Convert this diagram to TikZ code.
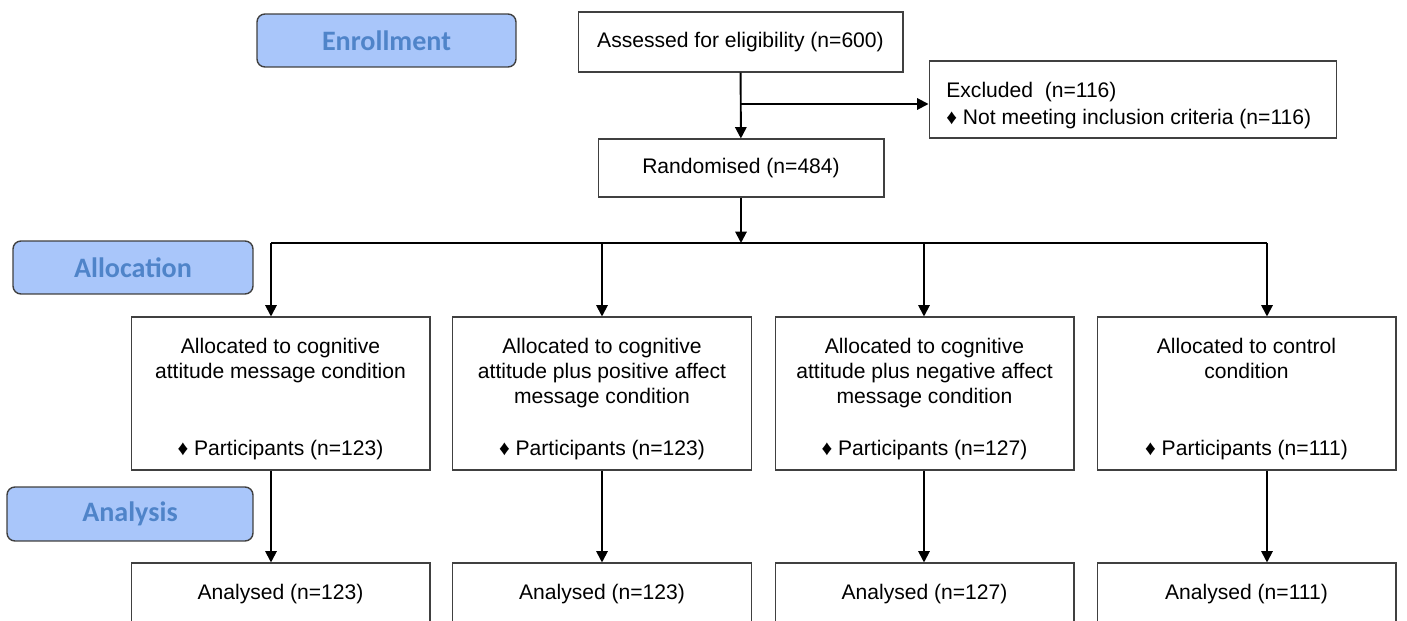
\documentclass[tikz,border=0pt]{standalone}
\usepackage{fontspec}
\setmainfont{Liberation Sans}
\newfontfamily\stagefont{Carlito}
\usepackage{tikz}
\usepackage{xcolor}
\usetikzlibrary{arrows.meta, positioning}

\definecolor{stagefill}{HTML}{A9C6FA}
\definecolor{stagetext}{HTML}{4F84C9}
\definecolor{boxline}{HTML}{404040}

\begin{document}
\begin{tikzpicture}[x=0.02cm, y=-0.02cm,
    stage/.style={draw=boxline, line width=0.8pt, fill=stagefill, rounded corners=4.5pt,
        text=stagetext, font=\stagefont\bfseries\fontsize{16}{19}\selectfont},
    flowbox/.style={draw=boxline, line width=0.6pt, fill=white, align=center,
        font=\fontsize{12}{14.4}\selectfont},
    boxtext/.style={inner sep=0pt, align=center, font=\fontsize{12}{14.4}\selectfont},
    flow/.style={-{Triangle[length=6.5pt, width=6.5pt]}, line width=1.1pt}]
    \useasboundingbox (0,0) rectangle (1407,621);

    % Stage labels
    \node[stage, minimum width=5.18cm, minimum height=1.06cm] (enroll) at (386.5,40.5) {Enrollment};
    \node[stage, minimum width=4.8cm, minimum height=1.06cm] (alloc) at (133,267.5) {Allocation};
    \node[stage, minimum width=4.92cm, minimum height=1.08cm] (analysis) at (130,514) {Analysis};

    % Enrollment boxes
    \node[flowbox, minimum width=6.5cm, minimum height=1.2cm] (assessed) at (740.5,42) {Assessed for eligibility (n=600)};
    \node[flowbox, minimum width=8.16cm, minimum height=1.54cm] (excluded) at (1133,99.5) {};
    \node[boxtext, align=left, anchor=west, font=\fontsize{12}{15.4}\selectfont] (excluded-text) at (946,106)
        {Excluded~ (n=116)\\\char"2666\ Not meeting inclusion criteria (n=116)};
    \node[flowbox, minimum width=5.72cm, minimum height=1.16cm] (random) at (741,168) {Randomised (n=484)};

    % Allocation boxes
    \node[flowbox, minimum width=5.98cm, minimum height=3.06cm] (group1) at (280.5,393.5) {};
    \node[flowbox, minimum width=5.98cm, minimum height=3.06cm] (group2) at (602,393.5) {};
    \node[flowbox, minimum width=5.98cm, minimum height=3.06cm] (group3) at (924.5,393.5) {};
    \node[flowbox, minimum width=5.98cm, minimum height=3.06cm] (group4) at (1246.5,393.5) {};

    \node[boxtext, below=0.42cm of group1.north] (group1-title) {Allocated to cognitive\\attitude message condition};
    \node[boxtext, below=0.42cm of group2.north] (group2-title) {Allocated to cognitive\\attitude plus positive affect\\message condition};
    \node[boxtext, below=0.42cm of group3.north] (group3-title) {Allocated to cognitive\\attitude plus negative affect\\message condition};
    \node[boxtext, below=0.42cm of group4.north] (group4-title) {Allocated to control\\condition};

    \node[boxtext, above=0.2cm of group1.south] (group1-n) {\char"2666\ Participants (n=123)};
    \node[boxtext, above=0.2cm of group2.south] (group2-n) {\char"2666\ Participants (n=123)};
    \node[boxtext, above=0.2cm of group3.south] (group3-n) {\char"2666\ Participants (n=127)};
    \node[boxtext, above=0.2cm of group4.south] (group4-n) {\char"2666\ Participants (n=111)};

    % Analysis boxes
    \node[flowbox, minimum width=5.98cm, minimum height=1.24cm] (result1) at (280.5,594) {Analysed (n=123)};
    \node[flowbox, minimum width=5.98cm, minimum height=1.24cm] (result2) at (602,594) {Analysed (n=123)};
    \node[flowbox, minimum width=5.98cm, minimum height=1.24cm] (result3) at (924.5,594) {Analysed (n=127)};
    \node[flowbox, minimum width=5.98cm, minimum height=1.24cm] (result4) at (1246.5,594) {Analysed (n=111)};

    % Junctions
    \coordinate (split) at (741,104);
    \coordinate (hub) at (741,243);
    \coordinate (drop1) at (271,243);
    \coordinate (drop2) at (602,243);
    \coordinate (drop3) at (924,243);
    \coordinate (drop4) at (1267,243);

    % Edges
    \draw[flow] (assessed) -- (random);
    \draw[flow] (split) -- (split -| excluded.west);
    \draw[flow] (random) -- (hub);
    \draw[line width=1.1pt] (drop1) -- (drop4);
    \draw[flow] (drop1) -- (drop1 |- group1.north);
    \draw[flow] (drop2) -- (drop2 |- group2.north);
    \draw[flow] (drop3) -- (drop3 |- group3.north);
    \draw[flow] (drop4) -- (drop4 |- group4.north);
    \draw[flow] (drop1 |- group1.south) -- (drop1 |- result1.north);
    \draw[flow] (drop2 |- group2.south) -- (drop2 |- result2.north);
    \draw[flow] (drop3 |- group3.south) -- (drop3 |- result3.north);
    \draw[flow] (drop4 |- group4.south) -- (drop4 |- result4.north);
\end{tikzpicture}
\end{document}
